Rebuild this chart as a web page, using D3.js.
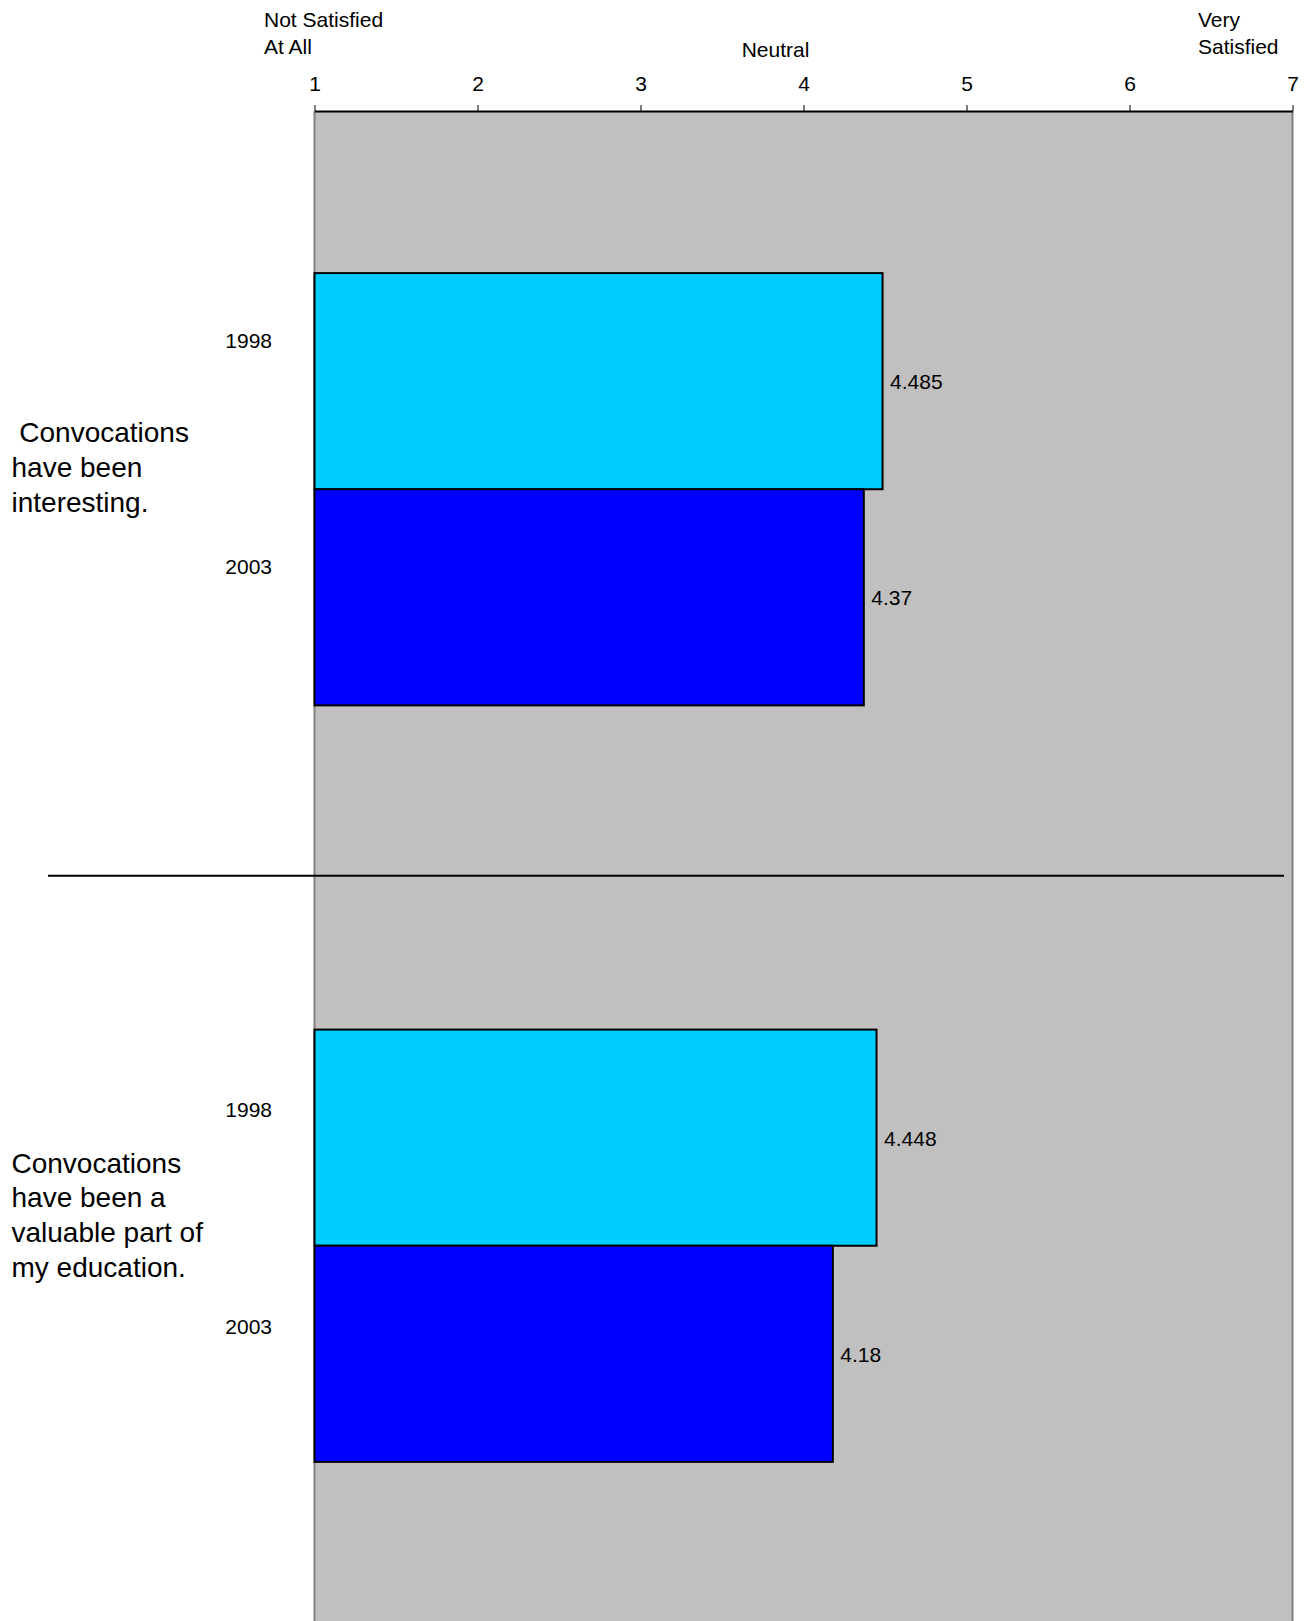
<!DOCTYPE html>
<html><head><meta charset="utf-8">
<script src="https://cdn.jsdelivr.net/npm/d3@7"></script>
<style>
html,body{margin:0;padding:0;background:#fff;}
text{font-family:"Liberation Sans",Arial,sans-serif;fill:#000;}
</style></head>
<body>
<svg id="chart" width="1310" height="1621"></svg>
<script>
// ---- data ----
const categories = [" Convocations have been interesting.", "Convocations have been a valuable part of my education."];
const categoryLines = [[" Convocations", "have been", "interesting."], ["Convocations", "have been a", "valuable part of", "my education."]];
const years = ["1998", "2003"];
const values1998 = [4.485, 4.448];
const values2003 = [4.37, 4.18];
const valueLabels1998 = ["4.485", "4.448"];
const valueLabels2003 = ["4.37", "4.18"];
const tickValues = [1, 2, 3, 4, 5, 6, 7];
const scaleLabelsLeft = ["Not Satisfied", "At All"];
const scaleLabelMid = ["Neutral"];
const scaleLabelsRight = ["Very", "Satisfied"];
const seriesColors = ["#00CCFF", "#0000FF"];

// ---- layout ----
const W = 1310, H = 1621;
const plotLeft = 314.5, plotRight = 1292.5, plotTop = 111, plotH = 1513;
const svg = d3.select("#chart");

const x = d3.scaleLinear().domain([1, 7]).range([plotLeft, plotRight]);
const y = d3.scaleBand().domain(categories).range([plotTop, plotTop + plotH]).padding(0);
const yInner = d3.scaleBand().domain(years).range([0, y.bandwidth()]).paddingInner(0).paddingOuter(0.75);

// plot area
svg.append("rect").attr("x", plotLeft).attr("y", plotTop)
  .attr("width", plotRight - plotLeft).attr("height", plotH)
  .attr("fill", "#C0C0C0");
svg.append("line").attr("x1", plotLeft).attr("x2", plotLeft).attr("y1", plotTop).attr("y2", plotTop + plotH)
  .attr("stroke", "#808080").attr("stroke-width", 2);
svg.append("line").attr("x1", plotRight).attr("x2", plotRight).attr("y1", plotTop).attr("y2", plotTop + plotH)
  .attr("stroke", "#808080").attr("stroke-width", 2);

// bars
const rows = [];
categories.forEach((c, i) => {
  rows.push({cat: c, year: years[0], v: values1998[i], label: valueLabels1998[i], color: seriesColors[0]});
  rows.push({cat: c, year: years[1], v: values2003[i], label: valueLabels2003[i], color: seriesColors[1]});
});
svg.selectAll("rect.bar").data(rows).enter().append("rect").attr("class", "bar")
  .attr("x", x(1))
  .attr("y", d => y(d.cat) + yInner(d.year))
  .attr("width", d => x(d.v) - x(1))
  .attr("height", yInner.bandwidth())
  .attr("fill", d => d.color)
  .attr("stroke", "#000").attr("stroke-width", 2);

// value labels
svg.selectAll("text.val").data(rows).enter().append("text").attr("class", "val")
  .attr("x", d => x(d.v) + 7.5)
  .attr("y", d => y(d.cat) + yInner(d.year) + yInner.bandwidth() / 2 + 8)
  .attr("font-size", 21)
  .text(d => d.label);

// top axis
const axis = d3.axisTop(x).tickValues(tickValues).tickFormat(d3.format("d")).tickSize(6).tickSizeOuter(0).tickPadding(14);
const gAx = svg.append("g").attr("transform", `translate(0,${plotTop})`).call(axis);
gAx.select(".domain").attr("stroke", "#000").attr("stroke-width", 2);
gAx.selectAll(".tick line").attr("stroke", "#000").attr("stroke-width", 1);
gAx.selectAll(".tick text").attr("font-size", 21).attr("font-family", "Liberation Sans, Arial, sans-serif").attr("fill", "#000");

// scale anchor labels
svg.append("text").attr("x", 264).attr("y", 27).attr("font-size", 21)
  .selectAll("tspan").data(scaleLabelsLeft).enter().append("tspan")
  .attr("x", 264).attr("dy", (d, i) => i === 0 ? 0 : 27).text(d => d);
svg.append("text").attr("x", 775.5).attr("y", 57).attr("font-size", 21).attr("text-anchor", "middle").text(scaleLabelMid[0]);
svg.append("text").attr("x", 1198).attr("y", 27).attr("font-size", 21)
  .selectAll("tspan").data(scaleLabelsRight).enter().append("tspan")
  .attr("x", 1198).attr("dy", (d, i) => i === 0 ? 0 : 27).text(d => d);

// year labels (text boxes offset above bar centers)
const yearOffsets = [-33.5, -23.5, -20.5, -19.5];
svg.selectAll("text.yr").data(rows).enter().append("text").attr("class", "yr")
  .attr("x", 272).attr("text-anchor", "end").attr("font-size", 21)
  .attr("y", (d, i) => y(d.cat) + yInner(d.year) + yInner.bandwidth() / 2 + yearOffsets[i])
  .text(d => d.year);

// category labels
const catLineH = 34.8;
const catOffsets = [-12, -21];
categories.forEach((c, i) => {
  const lines = categoryLines[i];
  const center = y(c) + y.bandwidth() / 2;
  const first = center - (lines.length - 1) / 2 * catLineH + catOffsets[i];
  svg.append("text").attr("font-size", 28).attr("xml:space", "preserve").style("white-space", "pre")
    .selectAll("tspan").data(lines).enter().append("tspan")
    .attr("x", 11.5).attr("y", (d, j) => first + j * catLineH).text(d => d);
});

// separator line between categories
svg.append("line").attr("x1", 48).attr("x2", 1284).attr("y1", 875.7).attr("y2", 875.7)
  .attr("stroke", "#000").attr("stroke-width", 2);
</script>
</body></html>
